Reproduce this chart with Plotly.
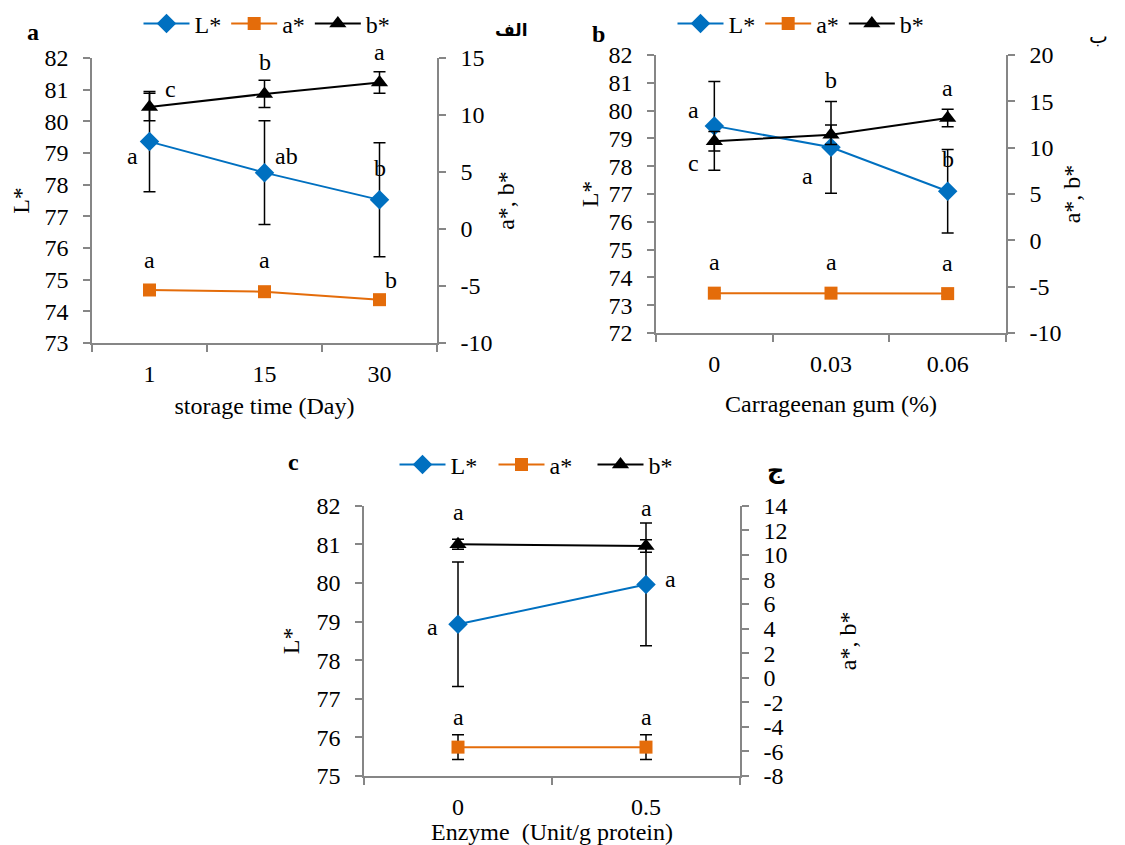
import plotly.graph_objects as go

# ---------------- data ----------------
# Panel a: storage time
cat_a = ["1", "15", "30"]
L_a = [79.36, 78.38, 77.52]
L_a_err = [1.58, 1.64, 1.80]
a_a = [-5.35, -5.50, -6.20]
a_a_err = [0.30, 0.30, 0.30]
b_a = [10.70, 11.85, 12.85]
b_a_err = [1.20, 1.20, 0.95]
L_a_let = ["a", "ab", "b"]
a_a_let = ["a", "a", "b"]
b_a_let = ["c", "b", "a"]
ticks_a_left = [73, 74, 75, 76, 77, 78, 79, 80, 81, 82]
ticks_a_right = [-10, -5, 0, 5, 10, 15]

# Panel b: carrageenan gum
cat_b = ["0", "0.03", "0.06"]
L_b = [79.45, 78.68, 77.10]
L_b_err = [1.60, 1.65, 1.50]
a_b = [-5.70, -5.70, -5.75]
a_b_err = [0.30, 0.30, 0.30]
b_b = [10.70, 11.40, 13.20]
b_b_err = [1.05, 1.05, 0.95]
L_b_let = ["a", "a", "b"]
a_b_let = ["a", "a", "a"]
b_b_let = ["c", "b", "a"]
ticks_b_left = [72, 73, 74, 75, 76, 77, 78, 79, 80, 81, 82]
ticks_b_right = [-10, -5, 0, 5, 10, 15, 20]

# Panel c: enzyme
cat_c = ["0", "0.5"]
L_c = [78.93, 79.96]
L_c_err = [1.61, 1.59]
a_c = [-5.65, -5.65]
a_c_err = [1.00, 1.00]
b_c = [10.86, 10.72]
b_c_err = [0.40, 0.50]
L_c_let = ["a", "a"]
a_c_let = ["a", "a"]
b_c_let = ["a", "a"]
ticks_c_left = [75, 76, 77, 78, 79, 80, 81, 82]
ticks_c_right = [-8, -6, -4, -2, 0, 2, 4, 6, 8, 10, 12, 14]

# ---------------- style ----------------
PAGE_MARGIN = 8                 # default body margin of the html page
W, H = 1125 - PAGE_MARGIN, 845 - PAGE_MARGIN
BLUE = "#0070C0"
ORANGE = "#E46C0A"
BLACK = "#000000"
GRAY = "#868686"
FONT = "Liberation Serif, Times New Roman, serif"
AR_FONT = "DejaVu Sans, Noto Sans, sans-serif"
FS = 24


def px_x(p):
    # screen pixel -> paper fraction
    return (p - PAGE_MARGIN) / W


def px_y(p):
    return 1 - (p - PAGE_MARGIN) / H


fig = go.Figure()

panels = [
    dict(cat=cat_a, L=L_a, Le=L_a_err, A=a_a, Ae=a_a_err, B=b_a, Be=b_a_err,
         xa="x", ya="y", yb="y2", leg="legend",
         Llet=L_a_let, Alet=a_a_let, Blet=b_a_let,
         Lsh=[(-17, -14), (22, 17), (0, 32)],
         Bsh=[(21, 18), (0, 32), (0, 31)],
         Ash=[(0, 30), (0, 32), (11, 20)]),
    dict(cat=cat_b, L=L_b, Le=L_b_err, A=a_b, Ae=a_b_err, B=b_b, Be=b_b_err,
         xa="x2", ya="y3", yb="y4", leg="legend2",
         Llet=L_b_let, Alet=a_b_let, Blet=b_b_let,
         Lsh=[(-21, 16), (-24, -29), (0, 32)],
         Bsh=[(-21, -22), (0, 55), (0, 30)],
         Ash=[(0, 31), (0, 31), (0, 31)]),
    dict(cat=cat_c, L=L_c, Le=L_c_err, A=a_c, Ae=a_c_err, B=b_c, Be=b_c_err,
         xa="x3", ya="y5", yb="y6", leg="legend3",
         Llet=L_c_let, Alet=a_c_let, Blet=b_c_let,
         Lsh=[(-26, -3), (24, 5)],
         Bsh=[(0, 32), (0, 38)],
         Ash=[(0, 30), (0, 30)]),
]

annotations = []
for p in panels:
    def err(v):
        return dict(type="data", array=v, visible=True, color=BLACK, thickness=1.5, width=6)
    fig.add_trace(go.Scatter(
        x=p["cat"], y=p["L"], name="L*", mode="lines+markers",
        line=dict(color=BLUE, width=2),
        marker=dict(symbol="diamond", size=15, color=BLUE),
        error_y=err(p["Le"]), xaxis=p["xa"], yaxis=p["ya"], legend=p["leg"]))
    fig.add_trace(go.Scatter(
        x=p["cat"], y=p["A"], name="a*", mode="lines+markers",
        line=dict(color=ORANGE, width=2),
        marker=dict(symbol="square", size=13, color=ORANGE),
        error_y=err(p["Ae"]), xaxis=p["xa"], yaxis=p["yb"], legend=p["leg"]))
    fig.add_trace(go.Scatter(
        x=p["cat"], y=p["B"], name="b*", mode="lines+markers",
        line=dict(color=BLACK, width=2),
        marker=dict(symbol="triangle-up", size=15, color=BLACK),
        error_y=err(p["Be"]), xaxis=p["xa"], yaxis=p["yb"], legend=p["leg"]))
    for vals, lets, shs, yref in [(p["L"], p["Llet"], p["Lsh"], p["ya"]),
                                  (p["A"], p["Alet"], p["Ash"], p["yb"]),
                                  (p["B"], p["Blet"], p["Bsh"], p["yb"])]:
        for i, (v, t, (dx, dy)) in enumerate(zip(vals, lets, shs)):
            # category axes: annotation x is the category index
            annotations.append(dict(x=i, y=v, xref=p["xa"], yref=yref, text=t,
                                    showarrow=False, xshift=dx, yshift=dy,
                                    xanchor="center", yanchor="middle",
                                    font=dict(family=FONT, size=FS, color="black")))

# panel letters and Arabic labels
for t, x, y, fam, sz, bold in [("a", 33, 32, FONT, 24, True), ("b", 598, 34, FONT, 24, True),
                               ("c", 293, 462, FONT, 24, True),
                               ("الف", 511, 30, AR_FONT, 17, True), ("ب", 1098, 36, AR_FONT, 20, False),
                               ("ج", 776, 470, AR_FONT, 24, True)]:
    annotations.append(dict(x=px_x(x), y=px_y(y), xref="paper", yref="paper",
                            text=f"<b>{t}</b>" if bold else t, showarrow=False,
                            xanchor="center", yanchor="middle",
                            font=dict(family=fam, size=sz, color="black")))


def xax(dom, anchor, cats, title, standoff):
    return dict(domain=dom, anchor=anchor, type="category", categoryorder="array",
                categoryarray=cats, range=[-0.5, len(cats) - 0.5], tickson="boundaries",
                ticks="outside", ticklen=7, tickwidth=1.5, tickcolor=GRAY,
                showline=True, linecolor=GRAY, linewidth=1.5, showgrid=False, zeroline=False,
                ticklabelstandoff=8, automargin=False,
                tickfont=dict(family=FONT, size=FS, color="black"),
                title=dict(text=title, font=dict(family=FONT, size=FS, color="black"), standoff=standoff))


def yax(dom, anchor, rng, tv, title, standoff, side="left", overlaying=None):
    d = dict(domain=dom, anchor=anchor, range=rng, side=side,
             tickmode="array", tickvals=tv, ticktext=[str(v) for v in tv],
             ticks="outside", ticklen=7, tickwidth=1.5, tickcolor=GRAY,
             showline=True, linecolor=GRAY, linewidth=1.5, showgrid=False, zeroline=False,
             ticklabelstandoff=10, automargin=False,
             tickfont=dict(family=FONT, size=FS, color="black"),
             title=dict(text=title, font=dict(family=FONT, size=FS, color="black"), standoff=standoff))
    if overlaying:
        d["overlaying"] = overlaying
    return d


ya_dom = [px_y(343), px_y(58)]
yb_dom = [px_y(333), px_y(55)]
yc_dom = [px_y(776), px_y(505.7)]


def legend(cx, cy, entrywidth=None):
    d = dict(orientation="h", x=px_x(cx), y=px_y(cy), xanchor="center", yanchor="middle",
             font=dict(family=FONT, size=FS, color="black"), bgcolor="rgba(0,0,0,0)",
             itemwidth=46, tracegroupgap=0)
    if entrywidth:
        d["entrywidth"] = entrywidth
        d["entrywidthmode"] = "pixels"
    return d


fig.update_layout(
    width=W, height=H, margin=dict(l=0, r=0, t=0, b=0, pad=0, autoexpand=False),
    paper_bgcolor="white", plot_bgcolor="white", showlegend=True,
    xaxis=xax([px_x(92), px_x(437)], "y", cat_a, "storage time (Day)", 12),
    yaxis=yax(ya_dom, "x", [73, 82], ticks_a_left, "L*", 12),
    yaxis2=yax(ya_dom, "x", [-10, 15], ticks_a_right, "a*, b*", 6, side="right", overlaying="y"),
    xaxis2=xax([px_x(656), px_x(1006)], "y3", cat_b, "Carrageenan gum (%)", 20),
    yaxis3=yax(yb_dom, "x2", [72, 82], ticks_b_left, "L*", 3),
    yaxis4=yax(yb_dom, "x2", [-10, 20], ticks_b_right, "a*, b*", 3, side="right", overlaying="y3"),
    xaxis3=xax([px_x(364), px_x(740)], "y5", cat_c, "Enzyme  (Unit/g protein)", 2),
    yaxis5=yax(yc_dom, "x3", [75, 82], ticks_c_left, "L*", 10),
    yaxis6=yax(yc_dom, "x3", [-8, 14], ticks_c_right, "a*, b*", 53, side="right", overlaying="y5"),
    legend=legend(267, 24),
    legend2=legend(801, 24),
    legend3=legend(543, 465, entrywidth=38),
    annotations=annotations,
)

fig.write_html("out.html")
